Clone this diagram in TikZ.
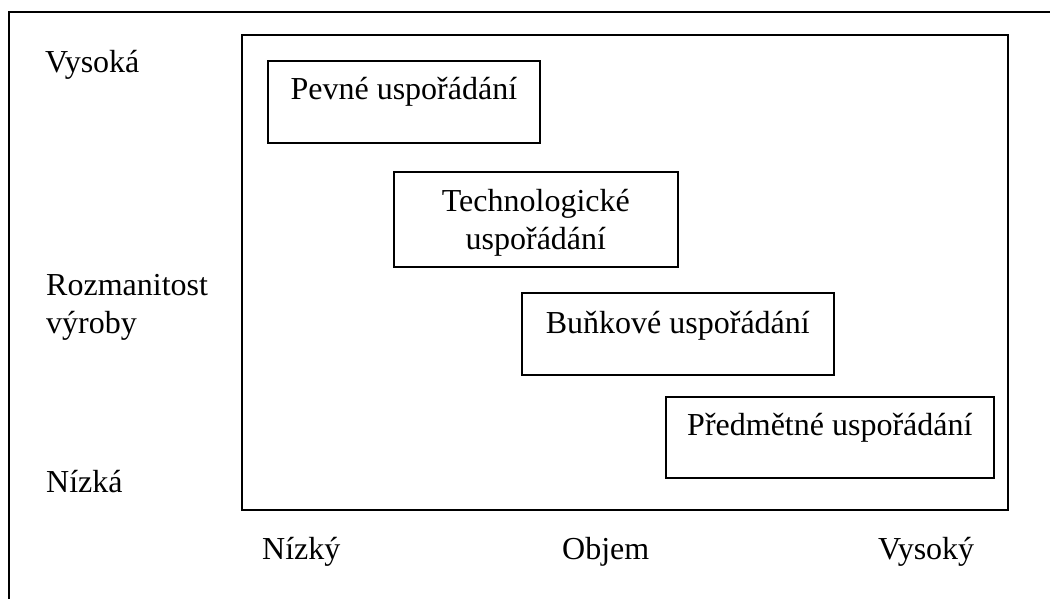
\documentclass[tikz,border=0pt]{standalone}
\usepackage{fontspec}
\setmainfont{Liberation Serif}
\begin{document}
\begin{tikzpicture}[x=1pt,y=-1pt,
  frame/.style={line width=1.8pt},
  boxnode/.style={draw,line width=1.7pt,anchor=north west,inner sep=0pt},
  lbl/.style={anchor=base west,inner sep=0pt},
  boxtext/.style={anchor=base,inner sep=0pt,align=center},
  every node/.append style={font=\fontsize{32}{37.5}\selectfont}]
  \useasboundingbox (0,0) rectangle (1050,599);
  % page frame, open at the right and the bottom
  \coordinate (pageTL) at (9,12);
  \coordinate (pageTR) at (1050,12);
  \coordinate (pageBL) at (9,599);
  \draw[frame] (pageTR) -- (pageTL) -- (pageBL);
  % chart area
  \node[boxnode,line width=1.8pt,minimum width=766pt,minimum height=475pt] (area) at (241,34) {};
  % layout boxes (multi-line text is anchored at the baseline of its last line)
  \node[boxnode,minimum width=272pt,minimum height=82pt] (fixed) at (267,60) {};
  \node[boxtext] (fixedT) at (fixed.north |- 0,100) {Pevné uspořádání};
  \node[boxnode,minimum width=284pt,minimum height=95pt] (tech) at (393,171) {};
  \node[boxtext] (techT) at (tech.north |- 0,249) {Technologické\\uspořádání};
  \node[boxnode,minimum width=312pt,minimum height=82pt] (cell) at (521,292) {};
  \node[boxtext] (cellT) at (cell.north |- 0,333) {Buňkové uspořádání};
  \node[boxnode,minimum width=328pt,minimum height=81pt] (prod) at (665,396) {};
  \node[boxtext] (prodT) at (prod.north |- 0,435) {Předmětné uspořádání};
  % vertical axis labels
  \node[lbl] (yHigh) at (45,73) {Vysoká};
  \node[lbl,align=left] (yName) at (46,333) {Rozmanitost\\výroby};
  \node[lbl] (yLow) at (46,492) {Nízká};
  % horizontal axis labels
  \node[lbl] (xLow) at (262,559) {Nízký};
  \node[lbl] (xName) at (562,559) {Objem};
  \node[lbl] (xHigh) at (878,559) {Vysoký};
\end{tikzpicture}
\end{document}
